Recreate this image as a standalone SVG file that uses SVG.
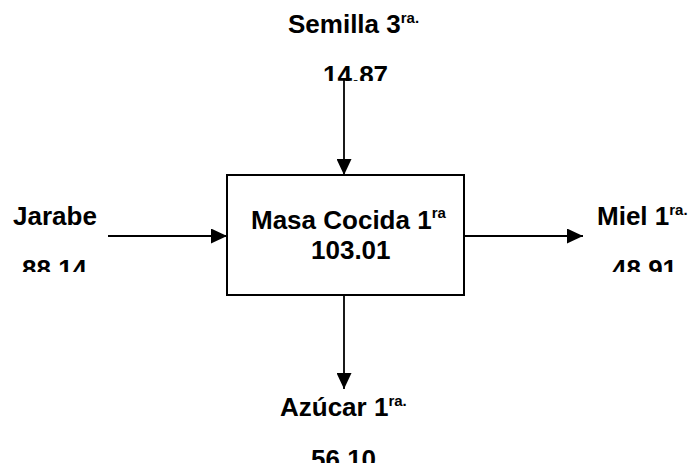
<svg xmlns="http://www.w3.org/2000/svg" width="693" height="468" viewBox="0 0 693 468">
<style>
.t{font-family:"Liberation Sans",Arial,sans-serif;font-weight:bold;font-size:26px;fill:#000}
.s{font-size:15px}
.c{stroke:#000;stroke-width:1.8;fill:none}
</style>
<defs>
<marker id="ah" markerUnits="userSpaceOnUse" markerWidth="16" markerHeight="15" refX="16" refY="7.5" orient="auto">
<path d="M0,0 L16,7.5 L0,15 Z" fill="#000"/>
</marker>
<clipPath id="cTop"><rect x="0" y="0" width="693" height="81"/></clipPath>
<clipPath id="cMid"><rect x="0" y="0" width="693" height="272"/></clipPath>
<clipPath id="cBot"><rect x="0" y="0" width="693" height="463"/></clipPath>
</defs>
<rect width="693" height="468" fill="#fff"/>
<g id="connectors">
<line class="c" x1="344" y1="80" x2="344" y2="175" marker-end="url(#ah)"/>
<line class="c" x1="108" y1="236" x2="227" y2="236" marker-end="url(#ah)"/>
<line class="c" x1="464" y1="236" x2="583" y2="236" marker-end="url(#ah)"/>
<line class="c" x1="344" y1="295" x2="344" y2="389" marker-end="url(#ah)"/>
</g>
<g id="masa">
<rect x="227" y="175" width="237" height="120" fill="none" stroke="#000" stroke-width="2"/>
<text class="t" x="251" y="229">Masa Cocida 1<tspan class="s" dy="-11">ra</tspan></text>
<text class="t" x="311" y="259">103.01</text>
</g>
<g id="semilla">
<text class="t" x="288" y="33">Semilla 3<tspan class="s" dy="-10">ra.</tspan></text>
<text class="t" x="323" y="84" clip-path="url(#cTop)">14.87</text>
</g>
<g id="jarabe">
<text class="t" x="13" y="225">Jarabe</text>
<text class="t" x="22" y="278" clip-path="url(#cMid)">88.14</text>
</g>
<g id="miel">
<text class="t" x="597" y="225">Miel 1<tspan class="s" dy="-10">ra.</tspan></text>
<text class="t" x="612" y="278" clip-path="url(#cMid)">48.91</text>
</g>
<g id="azucar">
<text class="t" x="280" y="416">Azúcar 1<tspan class="s" dy="-10">ra.</tspan></text>
<text class="t" x="311" y="468" clip-path="url(#cBot)">56.10</text>
</g>
</svg>
